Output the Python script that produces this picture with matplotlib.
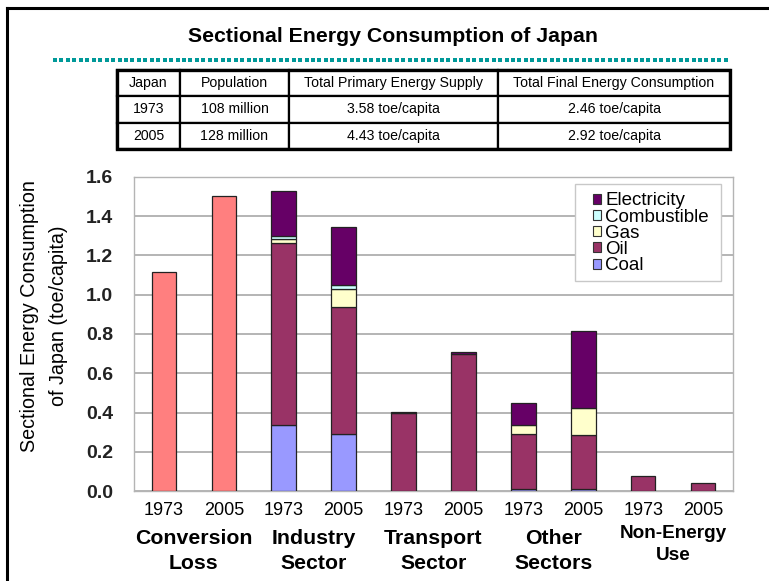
import numpy as np
import matplotlib
matplotlib.use("Agg")
import matplotlib.pyplot as plt
from matplotlib.lines import Line2D
from matplotlib.patches import Patch, Rectangle

plt.rcParams['font.family'] = ['Liberation Sans', 'DejaVu Sans']

# Per-capita consumption by sector (toe/capita)
years = ['1973', '2005'] * 5
sectors = ['Conversion\nLoss', 'Industry\nSector', 'Transport\nSector', 'Other\nSectors', 'Non-Energy\nUse']
conversion_loss = [1.115, 1.505, 0, 0, 0, 0, 0, 0, 0, 0]
coal = [0, 0, 0.334, 0.292, 0, 0, 0.008, 0.008, 0, 0]
oil = [0, 0, 0.932, 0.648, 0.395, 0.700, 0.281, 0.275, 0.075, 0.041]
gas = [0, 0, 0.016, 0.090, 0, 0, 0.049, 0.141, 0, 0]
combustible = [0, 0, 0.018, 0.020, 0, 0, 0, 0, 0, 0]
electricity = [0, 0, 0.230, 0.294, 0.007, 0.009, 0.110, 0.390, 0, 0]

# Summary table
table_header = ['Japan', 'Population', 'Total Primary Energy Supply', 'Total Final Energy Consumption']
table_rows = [
    ['1973', '108 million', '3.58 toe/capita', '2.46 toe/capita'],
    ['2005', '128 million', '4.43 toe/capita', '2.92 toe/capita'],
]

W, H = 769, 581
fig = plt.figure(figsize=(W / 100, H / 100), dpi=100)

def fx(px):
    return px / W

def fy(py):
    return 1 - py / H

# outer frame (left and top edges)
fig.add_artist(Line2D([fx(7), fx(7)], [fy(8), 0], color='black', lw=2.2))
fig.add_artist(Line2D([fx(7), 1], [fy(8), fy(8)], color='black', lw=2.2))

fig.text(fx(393), fy(36), 'Sectional Energy Consumption of Japan',
         ha='center', va='center', fontsize=15.3, fontweight='bold')

# dotted teal rule under the title
dots_x = np.arange(55, 729, 6.45)
fig.add_artist(Line2D([fx(x) for x in dots_x], [fy(60)] * len(dots_x), ls='none',
                      marker='s', markersize=3.3, color='#009999', markeredgewidth=0))

# summary table
tax = fig.add_axes([fx(117), fy(149), fx(730) - fx(117), fy(70) - fy(149)])
tax.axis('off')
col_w = np.array([63, 109, 209, 232], dtype=float)
tbl = tax.table(cellText=[table_header] + table_rows, colWidths=list(col_w / col_w.sum()),
                cellLoc='center', bbox=[0, 0, 1, 1])
tbl.auto_set_font_size(False)
for (r, c), cell in tbl.get_celld().items():
    cell.set_linewidth(1.6)
    cell.set_edgecolor('black')
    cell.get_text().set_fontsize(10.2)
tax.add_patch(Rectangle((0, 0), 1, 1, transform=tax.transAxes, fill=False,
                        lw=2.4, edgecolor='black', clip_on=False))

# bar chart
ax = fig.add_axes([fx(134), fy(491), fx(733) - fx(134), fy(177) - fy(491)])
x = np.arange(len(years))
bw = 0.41
edge = dict(edgecolor='#222222', linewidth=0.9, zorder=3)

ax.bar(x, conversion_loss, bw, color='#FF7F7F', **edge)
series = [
    ('Coal', coal, '#9999FF'),
    ('Oil', oil, '#993366'),
    ('Gas', gas, '#FFFFCC'),
    ('Combustible', combustible, '#CCFFFF'),
    ('Electricity', electricity, '#660066'),
]
bottom = np.zeros(len(x))
handles = []
for name, vals, col in series:
    vals = np.array(vals)
    mask = vals > 0
    ax.bar(x[mask], vals[mask], bw, bottom=bottom[mask], color=col, **edge)
    bottom += vals
    handles.append(Patch(facecolor=col, edgecolor='#333333', linewidth=0.8, label=name))

ax.set_xlim(-0.5, len(x) - 0.5)
ax.set_ylim(0, 1.6)
yt = np.arange(0, 1.61, 0.2)
ax.set_yticks(yt)
ax.set_yticklabels([f'{v:.1f}' for v in yt], fontsize=14, fontweight='bold', color='#222222')
ax.set_xticks(x)
ax.set_xticklabels(years, fontsize=13)
ax.tick_params(length=0)
ax.tick_params(axis='x', pad=8)
ax.tick_params(axis='y', pad=15)
ax.grid(axis='y', color='#b4b4b4', linewidth=1.4, zorder=0)
ax.set_axisbelow(True)
for s in ax.spines.values():
    s.set_color('#b4b4b4')
    s.set_linewidth(1.0)

fig.text(fx(44), fy(316), 'Sectional Energy Consumption\nof Japan (toe/capita)', fontsize=14.2,
         rotation=90, ha='center', va='center', multialignment='center', linespacing=1.65)

# sector names under the year labels
for i, name in enumerate(sectors):
    xc = 2 * i + 0.5
    if i == len(sectors) - 1:
        ax.text(xc, -(544.5 - 491) / 314, name, ha='center', va='center', fontsize=13.7,
                fontweight='bold', transform=ax.get_xaxis_transform(), linespacing=1.45)
    else:
        ax.text(xc, -(551 - 491) / 314, name, ha='center', va='center', fontsize=15.3,
                fontweight='bold', transform=ax.get_xaxis_transform(), linespacing=1.35)

# legend without its own frame; a plain box is drawn behind it
ax.add_patch(Rectangle((0.736, 0.669), 0.244, 0.309, transform=ax.transAxes, facecolor='white',
                       edgecolor='#c8c8c8', linewidth=1.0, zorder=4))
leg = ax.legend(handles=handles[::-1], loc='upper right', bbox_to_anchor=(0.972, 0.975),
                fontsize=13.5, frameon=False, labelspacing=-0.04,
                handlelength=0.45, handleheight=0.45, handletextpad=0.2, borderpad=0.4,
                borderaxespad=0)
leg.set_zorder(5)

fig.savefig('out.png', dpi=100)
